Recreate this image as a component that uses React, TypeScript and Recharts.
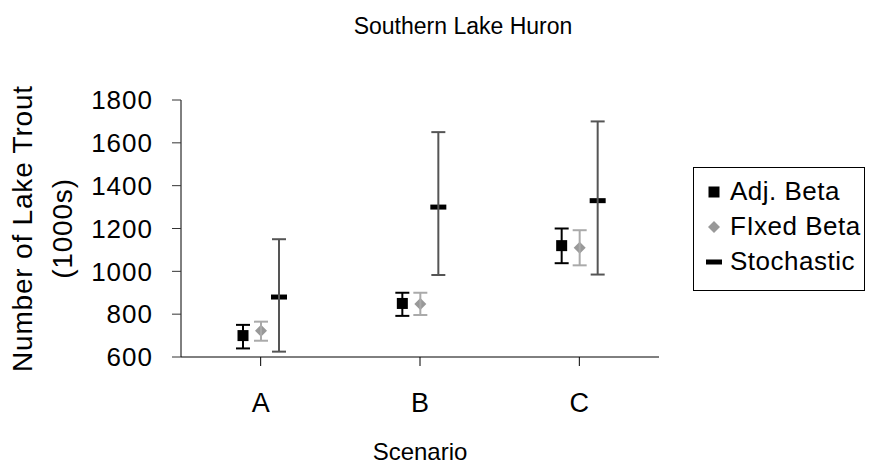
import { BarChart, Bar, XAxis, YAxis, ErrorBar } from 'recharts';

const FONT = 'Arial, "Liberation Sans", sans-serif';

const categories = ['A', 'B', 'C'];

const adjBeta = [700, 850, 1120];
const adjLow = [640, 792, 1038];
const adjHigh = [750, 900, 1200];

const fixedBeta = [723, 848, 1110];
const fixedLow = [676, 796, 1028];
const fixedHigh = [765, 900, 1192];

const stochastic = [880, 1300, 1330];
const stochLow = [625, 983, 985];
const stochHigh = [1150, 1650, 1700];

const yTicks = [600, 800, 1000, 1200, 1400, 1600, 1800];

// error bars in recharts are [below, above] distances from the value
const data = categories.map((name, i) => ({
  name,
  adj: adjBeta[i],
  adjErr: [adjBeta[i] - adjLow[i], adjHigh[i] - adjBeta[i]],
  fixed: fixedBeta[i],
  fixedErr: [fixedBeta[i] - fixedLow[i], fixedHigh[i] - fixedBeta[i]],
  stoch: stochastic[i],
  stochErr: [stochastic[i] - stochLow[i], stochHigh[i] - stochastic[i]],
}));

type Kind = 'square' | 'diamond' | 'dash';

function Marker({ kind, cx, cy }: { kind: Kind; cx: number; cy: number }) {
  if (kind === 'square') return <rect x={cx - 5.5} y={cy - 5.5} width={11} height={11} fill="#000" />;
  if (kind === 'diamond')
    return <polygon points={`${cx},${cy - 6} ${cx + 6},${cy} ${cx},${cy + 6} ${cx - 6},${cy}`} fill="#999" />;
  return <rect x={cx - 8} y={cy - 2.5} width={16} height={5} fill="#000" />;
}

// bar itself is invisible, only a marker at the value
const markerShape = (kind: Kind) => (props: any) => {
  const { x, y, width } = props;
  if (x == null || y == null) return <g />;
  return <Marker kind={kind} cx={x + width / 2} cy={y} />;
};

const SERIES: { label: string; kind: Kind }[] = [
  { label: 'Adj. Beta', kind: 'square' },
  { label: 'FIxed Beta', kind: 'diamond' },
  { label: 'Stochastic', kind: 'dash' },
];

function YLabel({ viewBox }: any) {
  const { x, y, height } = viewBox;
  const cy = y + height / 2;
  return (
    <g fontFamily={FONT} fontSize={28} fill="#000" style={{ letterSpacing: 0.8 }}>
      <text x={x + 32} y={cy} textAnchor="middle" transform={`rotate(-90, ${x + 32}, ${cy})`}>
        Number of Lake Trout
      </text>
      <text x={x + 72} y={cy} textAnchor="middle" transform={`rotate(-90, ${x + 72}, ${cy})`}>
        (1000s)
      </text>
    </g>
  );
}

function XLabel({ viewBox }: any) {
  const { x, y, width } = viewBox;
  return (
    <text x={x + width / 2} y={y + 103} textAnchor="middle" fontFamily={FONT} fontSize={24} fill="#000">
      Scenario
    </text>
  );
}

function LegendBox() {
  return (
    <div
      style={{
        position: 'absolute',
        left: 693,
        top: 167,
        width: 172,
        height: 124,
        border: '1px solid #000',
        boxSizing: 'border-box',
        fontFamily: FONT,
        fontSize: 26,
        letterSpacing: 0.5,
        paddingTop: 6,
      }}
    >
      {SERIES.map((s) => (
        <div key={s.label} style={{ display: 'flex', alignItems: 'center', height: 35 }}>
          <svg width={36} height={20} style={{ flex: 'none' }}>
            <Marker kind={s.kind} cx={20} cy={10} />
          </svg>
          <span style={{ whiteSpace: 'nowrap' }}>{s.label}</span>
        </div>
      ))}
    </div>
  );
}

export default function App() {
  return (
    <div style={{ position: 'absolute', left: 0, top: 0, width: 873, height: 470, background: '#fff', fontFamily: FONT }}>
      <div style={{ position: 'absolute', left: 0, top: 13, width: 926, textAlign: 'center', fontSize: 23 }}>
        Southern Lake Huron
      </div>
      <BarChart
        width={873}
        height={470}
        data={data}
        margin={{ top: 100, right: 214, bottom: 0, left: 0 }}
        barGap={0}
        barSize={18}
      >
        <XAxis
          dataKey="name"
          height={113}
          tickSize={9}
          tickMargin={27}
          axisLine={{ stroke: '#000' }}
          tickLine={{ stroke: '#000' }}
          tick={{ fontSize: 27, fill: '#000', fontFamily: FONT }}
          label={<XLabel />}
        />
        <XAxis xAxisId="top" dataKey="name" orientation="top" height={0} tick={false} tickLine={false} axisLine={{ stroke: '#808080' }} />
        <YAxis
          type="number"
          domain={[600, 1800]}
          ticks={yTicks}
          width={181}
          tickSize={9}
          tickMargin={19}
          interval={0}
          axisLine={{ stroke: '#000' }}
          tickLine={{ stroke: '#333' }}
          tick={{ fontSize: 26, fill: '#000', fontFamily: FONT, letterSpacing: 1 }}
          label={<YLabel />}
        />
        <YAxis yAxisId="right" orientation="right" domain={[600, 1800]} width={0} tick={false} tickLine={false} axisLine={{ stroke: '#808080' }} />
        <Bar dataKey="adj" shape={markerShape('square')} isAnimationActive={false}>
          <ErrorBar dataKey="adjErr" direction="y" width={7} stroke="#000" strokeWidth={2} />
        </Bar>
        <Bar dataKey="fixed" shape={markerShape('diamond')} isAnimationActive={false}>
          <ErrorBar dataKey="fixedErr" direction="y" width={7} stroke="#aaa" strokeWidth={2} />
        </Bar>
        <Bar dataKey="stoch" shape={markerShape('dash')} isAnimationActive={false}>
          <ErrorBar dataKey="stochErr" direction="y" width={7} stroke="#555" strokeWidth={2} />
        </Bar>
      </BarChart>
      <LegendBox />
    </div>
  );
}
